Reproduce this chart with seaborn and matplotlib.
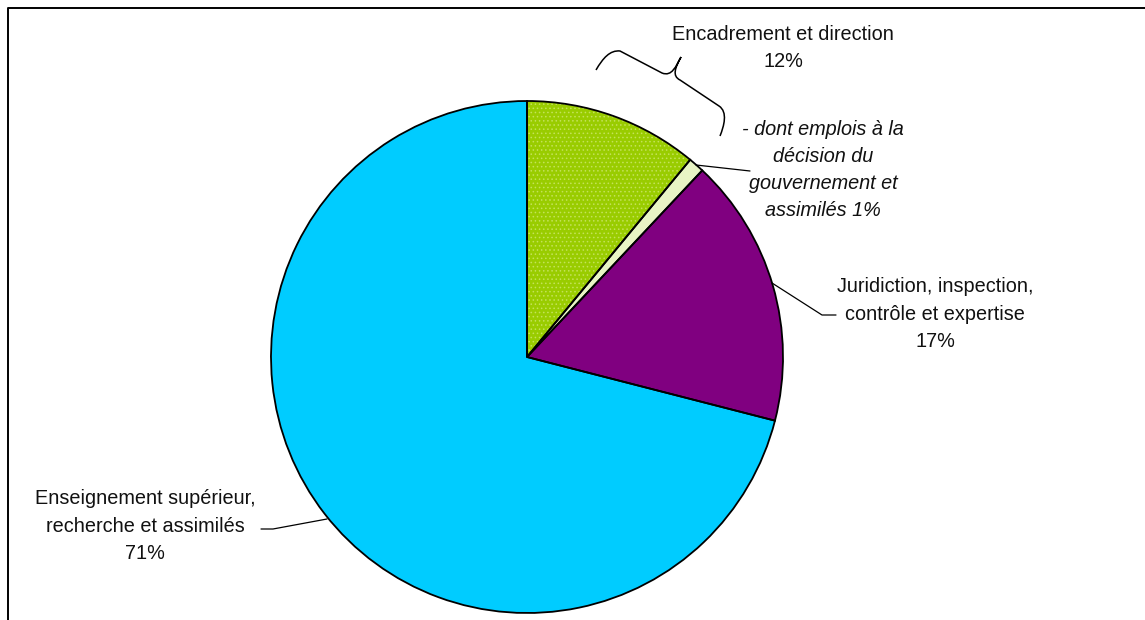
import matplotlib
matplotlib.use("Agg")
import matplotlib.pyplot as plt
from matplotlib.path import Path
from matplotlib.patches import PathPatch
import seaborn as sns

# Répartition des emplois par catégorie (en %)
categories = [
    "Encadrement et direction",
    "- dont emplois à la décision du gouvernement et assimilés",
    "Juridiction, inspection, contrôle et expertise",
    "Enseignement supérieur, recherche et assimilés",
]
values = [11, 1, 17, 71]
colors = ["#99CC00", "#E8F4C4", "#800080", "#00CCFF"]

sns.set_theme(style="white")
plt.rcParams["font.family"] = ["Liberation Sans", "DejaVu Sans"]
plt.rcParams["hatch.linewidth"] = 0.6

W, H = 1145, 620
fig = plt.figure(figsize=(W / 100, H / 100), dpi=100)
ax = fig.add_axes([0, 0, 1, 1])


def P(x, y):
    """Pixel position (origin top-left) to axes data coordinates."""
    return (x, H - y)


center = P(527, 357)
radius = 256
pie_kw = dict(startangle=90, counterclock=False, center=center, radius=radius, frame=True)

# 1) filled slices
ax.pie(values, colors=colors, wedgeprops=dict(linewidth=0), **pie_kw)

# 2) dotted texture on the main "Encadrement" slice
tex_wedges, _ = ax.pie(values, colors=["none"] * len(values),
                       wedgeprops=dict(linewidth=0), **pie_kw)
for i, w in enumerate(tex_wedges):
    if i == 0:
        w.set_hatch("....")
        w.set_edgecolor("#C4E25A")
    else:
        w.set_visible(False)

# 3) slice outlines on top
ax.pie(values, colors=["none"] * len(values),
       wedgeprops=dict(edgecolor="black", linewidth=1.3), **pie_kw)

ax.set_xlim(0, W)
ax.set_ylim(0, H)
ax.set_aspect("equal")
ax.set_axis_off()

fs = 14.3
txt = dict(fontsize=fs, ha="center", va="center", color="#111111", linespacing=1.55)

enc_total = values[0] + values[1]
ax.text(*P(783, 48), f"{categories[0]}\n{enc_total}%", **txt)
ax.text(*P(823, 170), f"- dont emplois à la\ndécision du\ngouvernement et\nassimilés {values[1]}%",
        style="italic", **txt)
ax.text(*P(935, 314), f"Juridiction, inspection,\ncontrôle et expertise\n{values[2]}%", **txt)
ax.text(*P(145, 526), f"Enseignement supérieur,\nrecherche et assimilés\n{values[3]}%", **txt)

# Leader lines
lk = dict(color="black", linewidth=0.9)
for pts in (
    [(696, 165), (750, 171)],
    [(772, 283), (822, 315), (836, 315)],
    [(327, 519), (273, 529), (261, 529)],
):
    xs, ys = zip(*[P(*p) for p in pts])
    ax.plot(xs, ys, **lk)

# Brace grouping the two "Encadrement" slices
verts = [
    P(596, 70), P(603, 58), P(610, 50), P(620, 51),
    P(662, 73),
    P(672, 77), P(676, 66), P(681, 57),
    P(675, 68), P(672, 76), P(680, 80),
    P(719, 106),
    P(728, 112), P(724, 126), P(720, 136),
]
codes = [Path.MOVETO, Path.CURVE4, Path.CURVE4, Path.CURVE4,
         Path.LINETO,
         Path.CURVE4, Path.CURVE4, Path.CURVE4,
         Path.CURVE4, Path.CURVE4, Path.CURVE4,
         Path.LINETO,
         Path.CURVE4, Path.CURVE4, Path.CURVE4]
ax.add_patch(PathPatch(Path(verts, codes), facecolor="none", edgecolor="black", linewidth=1.1))

# Chart area border (top and left edges visible)
bx, by = zip(*[P(8, H + 5), P(8, 8), P(W + 5, 8)])
ax.plot(bx, by, color="black", linewidth=1.4, clip_on=False)

fig.savefig("out.png", dpi=100, facecolor="white")
